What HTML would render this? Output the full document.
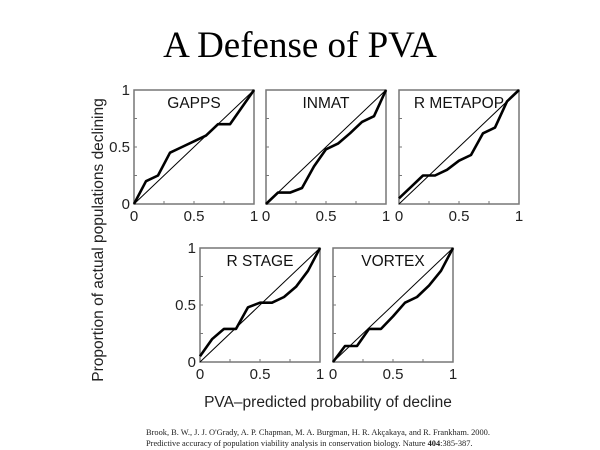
<!DOCTYPE html>
<html><head><meta charset="utf-8"><style>
html,body{margin:0;padding:0;background:#fff;width:600px;height:450px;overflow:hidden}
svg{display:block}
</style></head><body>
<svg id="c" width="600" height="450" xmlns="http://www.w3.org/2000/svg">
<text x="300" y="57" text-anchor="middle" font-family="Liberation Serif, serif" font-size="37">A Defense of PVA</text>
<text transform="translate(103,240) rotate(-90)" text-anchor="middle" font-family="Liberation Sans, sans-serif" font-size="15.5" fill="#222">Proportion of actual populations declining</text>
<text x="328" y="407" text-anchor="middle" font-family="Liberation Sans, sans-serif" font-size="15.5" fill="#222">PVA–predicted probability of decline</text>
<text x="146" y="435" font-family="Liberation Serif, serif" font-size="8.4" fill="#222">Brook, B. W., J. J. O'Grady, A. P. Chapman, M. A. Burgman, H. R. Akçakaya, and R. Frankham. 2000.</text>
<text x="146" y="446" font-family="Liberation Serif, serif" font-size="8.4" fill="#222">Predictive accuracy of population viability analysis in conservation biology. Nature <tspan font-weight="bold">404</tspan>:385-387.</text>
<g id="panels"></g>
</svg>
<script>
const xs = [0,0.1,0.2,0.3,0.4,0.5,0.6,0.7,0.8,0.9,1];
const panelNames = ["GAPPS","INMAT","R METAPOP","R STAGE","VORTEX"];
const gapps = [0,0.2,0.25,0.45,0.5,0.55,0.6,0.7,0.7,0.85,1];
const inmat = [0,0.1,0.1,0.14,0.33,0.48,0.53,0.62,0.72,0.77,1];
const rmetapop = [0.05,0.15,0.25,0.25,0.3,0.38,0.43,0.62,0.67,0.9,1];
const rstage = [0.05,0.2,0.29,0.29,0.48,0.52,0.52,0.57,0.66,0.8,1];
const vortex = [0,0.14,0.14,0.29,0.29,0.4,0.52,0.57,0.67,0.8,1];
const tickLabels = ["0","0.5","1"];
const tickVals = [0,0.5,1];
const series = [gapps,inmat,rmetapop,rstage,vortex];
const boxes = [[134,90],[266,90],[399,90],[200,248],[333,248]];
const W=120,H=114;
const NS="http://www.w3.org/2000/svg";
const root=document.getElementById('panels');
function mk(t,a,p){const e=document.createElementNS(NS,t);for(const k in a)e.setAttribute(k,a[k]);p.appendChild(e);return e;}
panelNames.forEach((name,i)=>{
  const [x0,y0]=boxes[i];
  const sx=v=>x0+v*W, sy=v=>y0+H-v*H;
  const slug=name.toLowerCase().replace(/ /g,'-');
  const g=mk('g',{},root);
  
  
  const fr=mk('rect',{x:x0,y:y0,width:W,height:H,fill:'none',stroke:'#777','stroke-width':1.5},g);
  
  
  for(let t=0.25;t<1;t+=0.25){
    const a=mk('line',{x1:sx(t),x2:sx(t),y1:y0+H,y2:y0+H-3,stroke:'#777'},g);
    
    
    const b=mk('line',{x1:x0,x2:x0+3,y1:sy(t),y2:sy(t),stroke:'#777'},g);
    
    
  }
  const d=mk('line',{x1:sx(0),y1:sy(0),x2:sx(1),y2:sy(1),stroke:'#000','stroke-width':1},g);
  
  
  const pts=xs.map((v,j)=>sx(v).toFixed(1)+','+sy(series[i][j]).toFixed(1)).join(' ');
  const pl=mk('polyline',{points:pts,fill:'none',stroke:'#000','stroke-width':2.6,'stroke-linejoin':'round'},g);
  
  
  const lt=mk('text',{x:x0+W/2,y:y0+18,'text-anchor':'middle','font-family':'Liberation Sans, sans-serif','font-size':15.5,fill:'#111'},g);
  lt.textContent=name;
  
  
  tickVals.forEach((v,k)=>{
    const tx=mk('text',{x:sx(v),y:y0+H+17,'text-anchor':'middle','font-family':'Liberation Sans, sans-serif','font-size':15,fill:'#222'},g);
    tx.textContent=tickLabels[k];
    
    
    if(i===0||i===3){
      const ty=mk('text',{x:x0-4,y:sy(v)+5,'text-anchor':'end','font-family':'Liberation Sans, sans-serif','font-size':15,fill:'#222'},g);
      ty.textContent=tickLabels[k];
      
      
    }
  });
});
</script>
</body></html>
